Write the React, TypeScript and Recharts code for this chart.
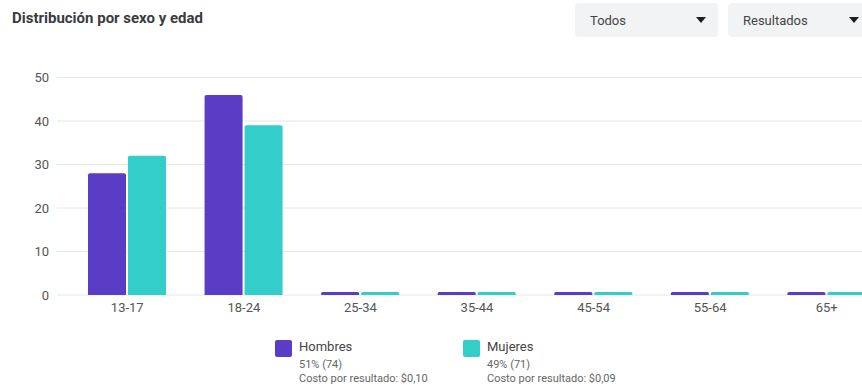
import { BarChart, Bar, XAxis, YAxis, CartesianGrid } from 'recharts'

const ageGroups = ['13-17', '18-24', '25-34', '35-44', '45-54', '55-64', '65+']
const hombres = [28, 46, 0, 0, 0, 0, 0]
const mujeres = [32, 39, 0, 0, 0, 0, 0]
const yTicks = [0, 10, 20, 30, 40, 50]

const series = [
  { key: 'hombres', label: 'Hombres', share: '51% (74)', cost: 'Costo por resultado: $0,10', color: '#5b3cc4' },
  { key: 'mujeres', label: 'Mujeres', share: '49% (71)', cost: 'Costo por resultado: $0,09', color: '#33cdca' },
]

const filters = ['Todos', 'Resultados']

const data = ageGroups.map((age, i) => ({ age, hombres: hombres[i], mujeres: mujeres[i] }))

const tickStyle = { fontSize: 13, fill: '#555' }

function Caret() {
  return (
    <svg width="10" height="6" viewBox="0 0 10 6">
      <path d="M0 0 L10 0 L5 6 Z" fill="#1c1e21" />
    </svg>
  )
}

export default function App() {
  return (
    <div style={{
      position: 'absolute', left: 0, top: 0, width: 862, height: 387,
      overflow: 'hidden', background: '#fff', fontFamily: 'Roboto, sans-serif',
    }}>
      <div style={{ position: 'absolute', left: 12, top: 9, fontSize: 15, fontWeight: 700, color: '#3a3b3f' }}>
        Distribución por sexo y edad
      </div>

      {filters.map((f, i) => (
        <div key={f} style={{
          position: 'absolute', left: i === 0 ? 575 : 728, top: 3, width: 143, height: 34,
          background: '#f2f3f5', borderRadius: 4, display: 'flex', alignItems: 'center',
          justifyContent: 'space-between', padding: '0 12px 0 15px', boxSizing: 'border-box',
          fontSize: 13, color: '#444',
        }}>
          <span>{f}</span>
          <Caret />
        </div>
      ))}

      <div style={{ position: 'absolute', left: 0, top: 0 }}>
        <BarChart width={886} height={387} data={data}
          margin={{ top: 77.5, right: 1, left: 17, bottom: 62 }}
          barGap={2}>
          <CartesianGrid vertical={false} stroke="#e6e6e6" />
          <XAxis dataKey="age" axisLine={false} tickLine={false} tick={tickStyle}
            height={30} padding={{ left: 12, right: 0 }} interval={0} />
          <YAxis domain={[0, 50]} ticks={yTicks} axisLine={false} tickLine={false}
            tick={tickStyle} width={40} />
          {series.map(s => (
            <Bar key={s.key} dataKey={s.key} fill={s.color} barSize={38}
              radius={[2, 2, 0, 0]} minPointSize={3} isAnimationActive={false} />
          ))}
        </BarChart>
      </div>

      {series.map((s, i) => (
        <div key={s.key} style={{ position: 'absolute', left: i === 0 ? 275 : 463, top: 339, display: 'flex' }}>
          <div style={{ width: 17, height: 17, background: s.color, borderRadius: 2, marginTop: 1 }} />
          <div style={{ marginLeft: 7 }}>
            <div style={{ fontSize: 13, color: '#444', lineHeight: '16px' }}>{s.label}</div>
            <div style={{ fontSize: 11, color: '#666', lineHeight: '14px', marginTop: 3 }}>{s.share}</div>
            <div style={{ fontSize: 11, color: '#666', lineHeight: '14px' }}>{s.cost}</div>
          </div>
        </div>
      ))}
    </div>
  )
}
